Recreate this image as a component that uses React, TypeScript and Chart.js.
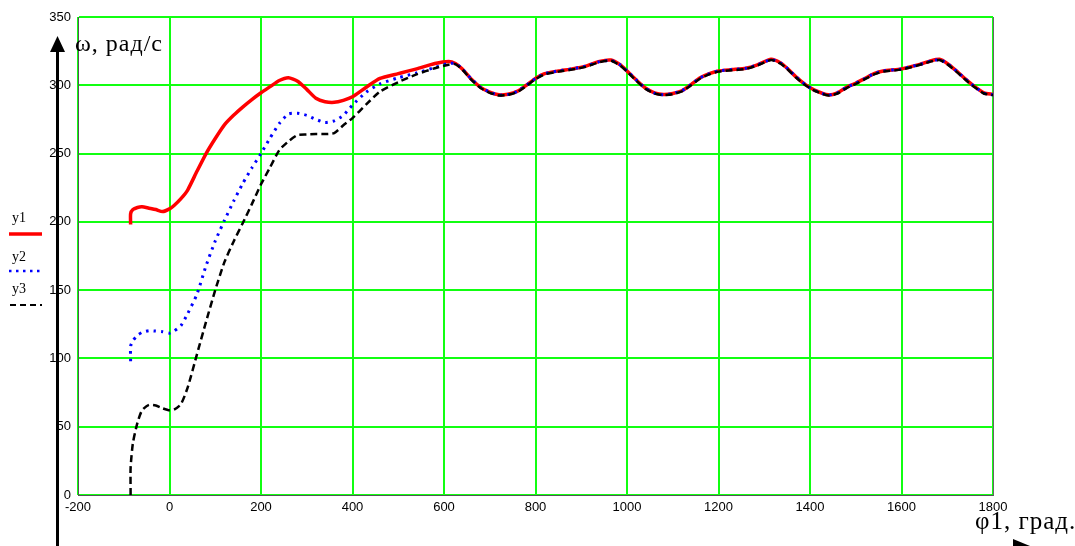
import React, { useEffect, useRef } from "react";
import { Chart, registerables } from "chart.js";

Chart.register(...registerables);

// x-axis: φ1, degrees
const xs = [
  -85, -85, -80, -70, -60, -45, -30, -15, 0, 10, 25, 40, 60, 80, 100, 120, 140, 160, 180, 200,
  220, 240, 260, 280, 300, 320, 340, 360, 380, 400, 430, 460, 500, 540, 580, 610, 625,
  640, 660, 680, 700, 720, 740, 760, 780, 800, 820,
  850, 880, 910, 940, 965, 985, 1000, 1020, 1040, 1060,
  1080, 1100, 1120, 1140, 1160, 1180, 1200, 1230, 1260, 1285,
  1315, 1335, 1350, 1370, 1390, 1410, 1440, 1460, 1480, 1500,
  1520, 1540, 1560, 1600, 1640, 1665, 1683, 1700, 1720, 1740,
  1760, 1780, 1800,
];

const y1 = [
  198, 206, 209, 210.5, 211, 210, 209, 207.5, 209.5, 212, 217, 223.5, 237, 250, 261, 271, 278, 284, 289.5, 294.5,
  299, 303.5, 305.5, 303, 297, 290.5, 288, 287.5, 289, 291.6, 298.6, 305, 308.5, 312, 316, 317.5, 316,
  312, 304.5, 298.5, 295, 293, 293.5, 295.5, 300, 305, 308.5,
  310.5, 312, 314, 317.5, 318.5, 315, 310.5, 304, 298, 294.5,
  293.3, 294, 296, 300.5, 305.5, 308.5, 310.5, 311.5, 312.5, 315,
  319, 316.5, 312.5, 306, 300.5, 296.5, 293, 294.5, 298.5, 301.5,
  305, 308.5, 310.5, 312, 315.3, 318, 319, 316, 310.5, 304.5,
  299, 294.5, 293.3,
];

const y2 = [
  98, 109, 113, 117, 119, 120.3, 120, 119.5, 118.5, 120, 124, 133, 147, 168, 186, 201, 215, 228, 239.5, 250,
  261.5, 272, 279, 279.5, 278, 275, 272.8, 274, 278, 285.5, 295, 301, 305.5, 309, 313, 316, 316,
  312, 304.5, 298.5, 295, 292.8, 293.3, 295.5, 300, 305, 308.5,
  310.5, 312, 314, 317.3, 318.3, 315, 310.5, 304, 298, 294.3,
  293, 294, 296, 300.5, 305.5, 308.5, 310.5, 311.5, 312.5, 315,
  318.8, 316.5, 312.5, 306, 300.5, 296.3, 292.8, 294.5, 298.5, 301.5,
  305, 308.5, 310.5, 312, 315.3, 317.8, 318.8, 316, 310.5, 304.5,
  299, 294.3, 293,
];

const y3 = [
  0, 20, 38, 53, 62, 66, 65.5, 63.5, 62, 62.5, 66.5, 79, 103, 127, 150, 170.5, 185.5, 199, 213, 227.5,
  240, 252.5, 259, 263.6, 264, 264.3, 264.3, 265, 270.7, 276, 286, 295.4, 302.3, 308, 312.5, 315, 315.5,
  311.5, 304, 298, 294.5, 292.5, 293, 295, 299.5, 304.5, 308,
  310, 311.5, 313.5, 317, 318, 314.5, 310, 303.5, 297.5, 294,
  292.8, 293.5, 295.5, 300, 305, 308, 310, 311, 312, 314.5,
  318.5, 316, 312, 305.5, 300, 296, 292.5, 294, 298, 301,
  304.5, 308, 310, 311.5, 315, 317.5, 318.5, 315.5, 310, 304,
  298.5, 294, 292.8,
];

const xTicksMin = -200;
const xTicksMax = 1800;
const xStep = 200;
const yTicksMin = 0;
const yTicksMax = 350;
const yStep = 50;

const seriesNames = ["y1", "y2", "y3"];
const yAxisTitle = "ω, рад/с";
const xAxisTitle = "φ1, град.";

const overlay = {
  id: "overlay",
  afterDraw(chart: any) {
    const { ctx, chartArea: a } = chart;
    ctx.save();
    // right border of plot
    ctx.strokeStyle = "#666";
    ctx.lineWidth = 1;
    ctx.beginPath();
    const rx = Math.round(a.right) + 0.5;
    ctx.moveTo(rx, a.top);
    ctx.lineTo(rx, a.bottom + 0.5);
    ctx.stroke();

    // vertical arrow axis
    ctx.fillStyle = "#000";
    ctx.fillRect(56, 50, 3, 500);
    ctx.beginPath();
    ctx.moveTo(57.5, 36);
    ctx.lineTo(50, 52);
    ctx.lineTo(65, 52);
    ctx.closePath();
    ctx.fill();

    // horizontal arrow head (bottom right)
    ctx.beginPath();
    ctx.moveTo(1030, 546);
    ctx.lineTo(1013, 539);
    ctx.lineTo(1013, 553);
    ctx.closePath();
    ctx.fill();

    // axis titles
    ctx.fillStyle = "#000";
    ctx.textAlign = "left";
    ctx.textBaseline = "alphabetic";
    try {
      (ctx as any).letterSpacing = "1px";
    } catch (e) {}
    ctx.font = '24px "Liberation Serif", serif';
    ctx.fillText(yAxisTitle, 75, 51);
    ctx.font = '25px "Liberation Serif", serif';
    ctx.fillText(xAxisTitle, 975, 529);
    try {
      (ctx as any).letterSpacing = "0px";
    } catch (e) {}

    // legend
    ctx.font = '14px "Liberation Serif", serif';
    ctx.fillText(seriesNames[0], 12, 222);
    ctx.fillText(seriesNames[1], 12, 261);
    ctx.fillText(seriesNames[2], 12, 293);

    ctx.strokeStyle = "#ff0000";
    ctx.lineWidth = 3.5;
    ctx.setLineDash([]);
    ctx.beginPath();
    ctx.moveTo(9, 234);
    ctx.lineTo(42, 234);
    ctx.stroke();

    ctx.strokeStyle = "#0000ff";
    ctx.lineWidth = 2.5;
    ctx.setLineDash([2.5, 4.5]);
    ctx.beginPath();
    ctx.moveTo(9, 271);
    ctx.lineTo(43, 271);
    ctx.stroke();

    ctx.strokeStyle = "#000";
    ctx.lineWidth = 2;
    ctx.setLineDash([6, 4]);
    ctx.beginPath();
    ctx.moveTo(10, 305);
    ctx.lineTo(42, 305);
    ctx.stroke();
    ctx.restore();
  },
};

export default function App() {
  const ref = useRef<HTMLCanvasElement | null>(null);

  useEffect(() => {
    if (!ref.current) return;
    const mk = (ys: number[]) => xs.map((x, i) => ({ x, y: ys[i] }));
    const tickFont = { family: '"Liberation Sans", Arial, sans-serif', size: 13 };
    const plain = (v: any) => String(v);
    const chart = new Chart(ref.current, {
      type: "line",
      data: {
        datasets: [
          {
            label: seriesNames[0],
            data: mk(y1),
            borderColor: "#ff0000",
            borderWidth: 3.5,
            pointRadius: 0,
            tension: 0.2,
            fill: false,
            order: 3,
          },
          {
            label: seriesNames[1],
            data: mk(y2),
            borderColor: "#0000ff",
            borderWidth: 3,
            borderDash: [2.5, 5],
            pointRadius: 0,
            tension: 0.2,
            fill: false,
            order: 2,
          },
          {
            label: seriesNames[2],
            data: mk(y3),
            borderColor: "#000000",
            borderWidth: 2.5,
            borderDash: [7, 4],
            pointRadius: 0,
            tension: 0.2,
            fill: false,
            order: 1,
          },
        ],
      },
      options: {
        responsive: false,
        animation: false,
        events: [],
        layout: { padding: { left: 0, right: 82, top: 17, bottom: 21 } },
        plugins: { legend: { display: false }, tooltip: { enabled: false } },
        scales: {
          x: {
            type: "linear",
            min: xTicksMin,
            max: xTicksMax,
            afterFit: (s: any) => {
              s.height = 30;
            },
            ticks: { stepSize: xStep, color: "#000", font: tickFont, padding: 5, maxRotation: 0, callback: plain },
            grid: { color: "#11ff11", lineWidth: 2, drawTicks: false },
            border: { color: "#555", width: 1 },
          },
          y: {
            type: "linear",
            min: yTicksMin,
            max: yTicksMax,
            afterFit: (s: any) => {
              s.width = 78;
            },
            ticks: { stepSize: yStep, color: "#000", font: tickFont, padding: 7, callback: plain },
            grid: { color: "#11ff11", lineWidth: 2, drawTicks: false },
            border: { color: "#555", width: 1 },
          },
        },
      },
      plugins: [overlay],
    });
    return () => chart.destroy();
  }, []);

  return (
    <div style={{ position: "absolute", left: 0, top: 0, width: 1075, height: 546, background: "#fff" }}>
      <canvas ref={ref} width={1075} height={546} style={{ width: 1075, height: 546, display: "block" }} />
    </div>
  );
}
